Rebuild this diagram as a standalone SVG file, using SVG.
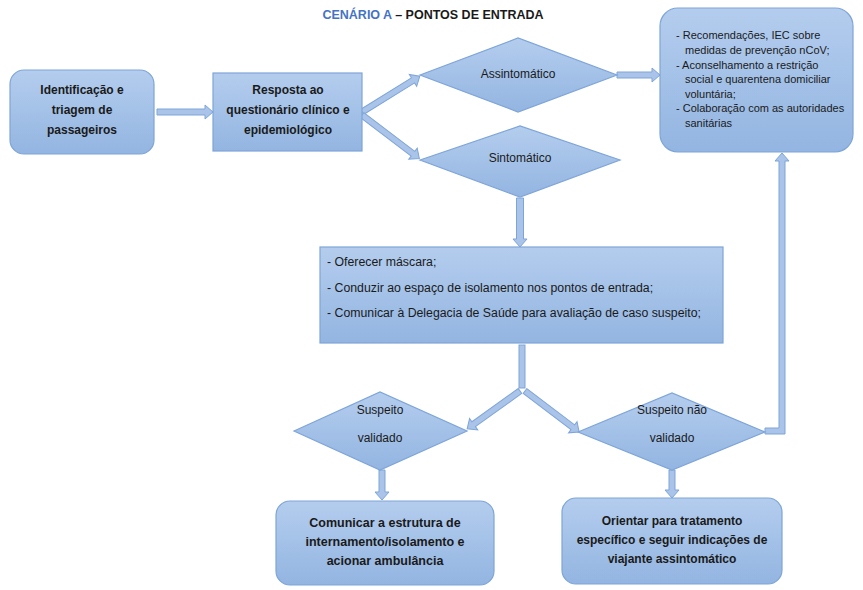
<svg xmlns="http://www.w3.org/2000/svg" width="863" height="590" viewBox="0 0 863 590">
<defs>
<linearGradient id="g" x1="0" y1="0" x2="0" y2="1">
<stop offset="0" stop-color="#b4cdee"/>
<stop offset="1" stop-color="#93b5e1"/>
</linearGradient>
<style>
.n{fill:url(#g);stroke:#7ea5d8;stroke-width:1.2}
.a{fill:#a9c4e8;stroke:#7ea5d8;stroke-width:1}
text{font-family:"Liberation Sans",Arial,sans-serif;fill:#1a1a1a}
.b{font-weight:bold;font-size:12px;text-anchor:middle}
.r{font-size:11px}
.c{font-size:12px;text-anchor:middle}
.t{font-weight:bold;font-size:12.5px;text-anchor:middle}
.m{font-size:12.3px}
</style>
</defs>
<text class="t" x="433" y="19"><tspan fill="#4472c4">CENÁRIO A</tspan> – PONTOS DE ENTRADA</text>

<g id="connectors">
<polygon class="a" points="157,109 205,109 205,105 213,112 205,119 205,115 157,115"/>
<polygon class="a" transform="translate(362,112) rotate(-31.8)" points="0,-3 60,-3 60,-7 68,0 60,7 60,3 0,3"/>
<polygon class="a" transform="translate(362,115) rotate(37.2)" points="0,-3 64,-3 64,-7 72,0 64,7 64,3 0,3"/>
<polygon class="a" points="617,72 652,72 652,68 660,75 652,82 652,78 617,78"/>
<polygon class="a" transform="translate(520,198) rotate(90)" points="0,-3.5 41,-3.5 41,-7 49,0 41,7 41,3.5 0,3.5"/>
<rect class="a" x="519" y="345" width="6" height="43"/>
<polygon class="a" transform="translate(520,391) rotate(144.4)" points="0,-3 57,-3 57,-7 65,0 57,7 57,3 0,3"/>
<polygon class="a" transform="translate(525,391) rotate(37.2)" points="0,-3 60,-3 60,-7 68,0 60,7 60,3 0,3"/>
<polygon class="a" transform="translate(382,470) rotate(90)" points="0,-3 22,-3 22,-7 30,0 22,7 22,3 0,3"/>
<polygon class="a" transform="translate(672,470) rotate(90)" points="0,-3 20,-3 20,-7 28,0 20,7 20,3 0,3"/>
<polygon class="a" points="765,428 779,428 779,161 775,161 782,153 789,161 785,161 785,434 765,434"/>
</g>

<g id="n1">
<rect class="n" x="10" y="70" width="144" height="84" rx="14"/>
<text class="b" x="82" y="94">Identificação e</text>
<text class="b" x="82" y="114">triagem de</text>
<text class="b" x="82" y="134">passageiros</text>
</g>
<g id="n2">
<rect class="n" x="213" y="73" width="149" height="78"/>
<text class="b" x="288" y="94">Resposta ao</text>
<text class="b" x="288" y="114">questionário clínico e</text>
<text class="b" x="288" y="134">epidemiológico</text>
</g>
<g id="d1">
<polygon class="n" points="420,75 518,38 617,75 518,112"/>
<text class="c" x="518" y="78">Assintomático</text>
</g>
<g id="d2">
<polygon class="n" points="420,160 520,126 620,160 520,197"/>
<text class="c" x="520" y="162">Sintomático</text>
</g>
<g id="n3">
<rect class="n" x="660" y="8" width="193" height="144" rx="18"/>
<text class="r" x="676" y="39">- Recomendações, IEC sobre</text>
<text class="r" x="685" y="54">medidas de prevenção nCoV;</text>
<text class="r" x="676" y="69">- Aconselhamento a restrição</text>
<text class="r" x="685" y="83">social e quarentena domiciliar</text>
<text class="r" x="685" y="98">voluntária;</text>
<text class="r" x="676" y="112">- Colaboração com as autoridades</text>
<text class="r" x="685" y="127">sanitárias</text>
</g>
<g id="n4">
<rect class="n" x="320" y="247" width="403" height="96"/>
<text class="m" x="327" y="266">- Oferecer máscara;</text>
<text class="m" x="327" y="292">- Conduzir ao espaço de isolamento nos pontos de entrada;</text>
<text class="m" x="327" y="317">- Comunicar à Delegacia de Saúde para avaliação de caso suspeito;</text>
</g>
<g id="d3">
<polygon class="n" points="294,431 380,392 467,431 380,470"/>
<text class="c" x="380" y="414">Suspeito</text>
<text class="c" x="380" y="442">validado</text>
</g>
<g id="d4">
<polygon class="n" points="578,432 672,393 765,432 672,470"/>
<text class="c" x="672" y="414">Suspeito não</text>
<text class="c" x="672" y="442">validado</text>
</g>
<g id="n5">
<rect class="n" x="276" y="501" width="218" height="84" rx="14"/>
<text class="b" x="385" y="527" style="font-size:12.5px">Comunicar a estrutura de</text>
<text class="b" x="385" y="546" style="font-size:12.5px">internamento/isolamento e</text>
<text class="b" x="385" y="565" style="font-size:12.5px">acionar ambulância</text>
</g>
<g id="n6">
<rect class="n" x="562" y="498" width="220" height="86" rx="14"/>
<text class="b" x="672" y="525">Orientar para tratamento</text>
<text class="b" x="672" y="544">específico e seguir indicações de</text>
<text class="b" x="672" y="563">viajante assintomático</text>
</g>
</svg>
